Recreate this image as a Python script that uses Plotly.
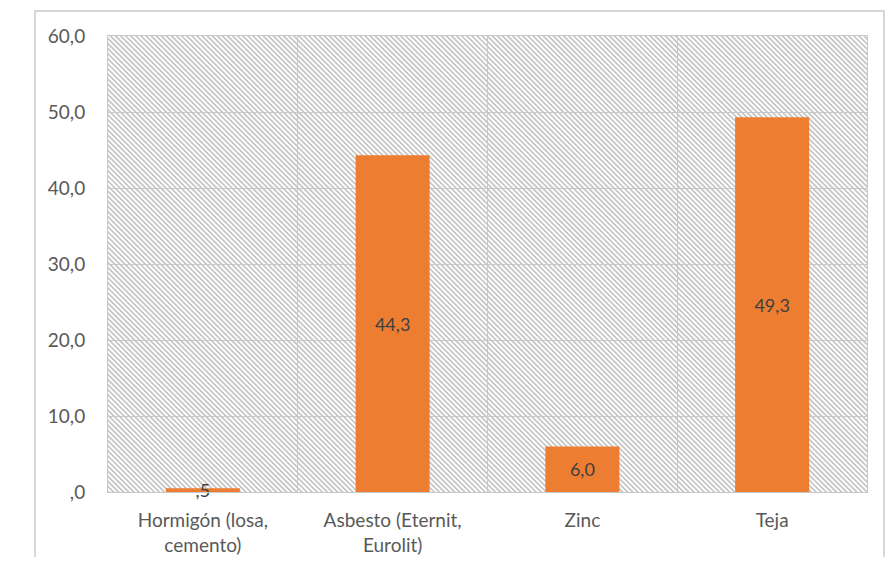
import base64
import plotly.graph_objects as go

categories = ["Hormigón (losa,<br>cemento)", "Asbesto (Eternit,<br>Eurolit)", "Zinc", "Teja"]
values = [0.5, 44.3, 6.0, 49.3]
y_tickvals = [0, 10, 20, 30, 40, 50, 60]
y_ticktext = [",0", "10,0", "20,0", "30,0", "40,0", "50,0", "60,0"]


def fmt(v):
    s = f"{v:.1f}".replace(".", ",")
    if s.startswith("0,"):
        s = s[1:]
    return s


# page has an 8px body margin; keep the figure inside the window
OFF = 8
W, H = 894 - 2 * OFF, 565 - 2 * OFF
L, T = 108 - OFF, 36 - OFF
R = W - (867 - OFF)
B = H - (492 - OFF)
pw, ph = W - L - R, H - T - B

svg = f'''<svg xmlns="http://www.w3.org/2000/svg" width="{pw}" height="{ph}" viewBox="0 0 {pw} {ph}">
<defs><pattern id="h" patternUnits="userSpaceOnUse" width="3.6" height="3.6" patternTransform="rotate(45)">
<rect width="3.6" height="3.6" fill="#ffffff"/>
<line x1="0" y1="1.8" x2="3.6" y2="1.8" stroke="#c0c0c0" stroke-width="1.6"/></pattern></defs>
<rect width="{pw}" height="{ph}" fill="url(#h)"/></svg>'''
src = "data:image/svg+xml;base64," + base64.b64encode(svg.encode()).decode()

FS = 19

fig = go.Figure()
fig.add_trace(go.Bar(
    x=categories, y=values,
    marker=dict(color="#ED7D31", line=dict(width=0)),
    width=0.39,
    text=[fmt(v) for v in values],
    textposition="inside",
    insidetextanchor="middle",
    textangle=0,
    constraintext="none",
    cliponaxis=False,
    textfont=dict(family="Lato, sans-serif", size=FS - 1, color="#404040"),
    hoverinfo="skip",
))

fig.update_layout(
    width=W, height=H,
    margin=dict(l=L, r=R, t=T, b=B, autoexpand=False),
    paper_bgcolor="white",
    plot_bgcolor="white",
    showlegend=False,
    font=dict(family="Lato, sans-serif", size=FS, color="#595959"),
    images=[dict(source=src, xref="paper", yref="paper", x=0, y=1, sizex=1, sizey=1,
                 xanchor="left", yanchor="top", sizing="stretch", layer="below")],
    shapes=[dict(type="rect", xref="paper", yref="paper",
                 x0=(35 - 108) / pw, x1=(884 - 108) / pw,
                 y0=-0.3, y1=(492 - 11) / ph,
                 line=dict(color="#cccccc", width=1.5), layer="below")],
)
fig.update_xaxes(
    tickson="boundaries", showgrid=True, gridcolor="#c8c8c8", gridwidth=1,
    showline=True, linecolor="#c8c8c8", mirror=True, ticks="",
    ticklabelstandoff=11, automargin=False,
    tickfont=dict(size=FS, color="#595959"),
)
fig.update_yaxes(
    range=[0, 60], tickvals=y_tickvals, ticktext=y_ticktext,
    showgrid=True, gridcolor="#c8c8c8", gridwidth=1,
    showline=True, linecolor="#c8c8c8", mirror=True, ticks="",
    zeroline=False, ticklabelstandoff=18, automargin=False,
    tickfont=dict(size=FS, color="#595959"),
)

fig.write_html("out.html")
